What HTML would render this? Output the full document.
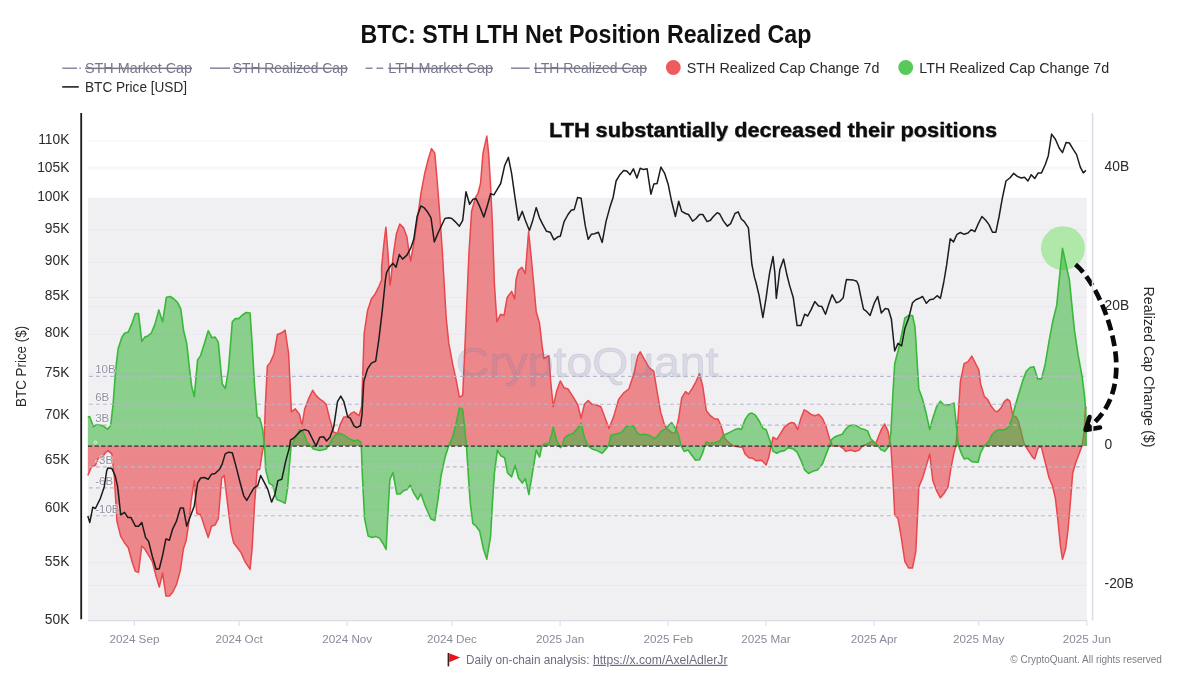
<!DOCTYPE html>
<html lang="en"><head><meta charset="utf-8"><title>BTC: STH LTH Net Position Realized Cap</title>
<style>
html,body{margin:0;padding:0;background:#fff;}
body{width:1183px;height:687px;overflow:hidden;font-family:"Liberation Sans", "DejaVu Sans", sans-serif;}
svg{display:block;}
text{font-family:"Liberation Sans", "DejaVu Sans", sans-serif;}
.yl{font-size:13.8px;fill:#2a2a2e;text-anchor:end;}
.yr{font-size:13.8px;fill:#2a2a2e;text-anchor:start;}
.xl{font-size:11.7px;fill:#8a8a9c;text-anchor:middle;}
.il{font-size:11.5px;fill:#8f8fa2;stroke:rgba(255,255,255,0.55);stroke-width:1.6px;paint-order:stroke;}
.lg{font-size:15px;fill:#2a2a2e;}
.lgx{font-size:15px;fill:#77778c;text-decoration:line-through;}
</style></head><body>
<svg width="1183" height="687" viewBox="0 0 1183 687">
<rect width="1183" height="687" fill="#ffffff"/>

<text x="585.9" y="42.6" text-anchor="middle" font-size="25px" font-weight="bold" fill="#111" textLength="451" lengthAdjust="spacingAndGlyphs">BTC: STH LTH Net Position Realized Cap</text>
<path d="M62.2,68.2 H77 M79.4,68.2 H80.8" stroke="#8a8aa0" stroke-width="1.6" fill="none"/>
<text class="lgx" x="85" y="73.0" textLength="107" lengthAdjust="spacingAndGlyphs">STH Market Cap</text>
<path d="M210,68.2 H230" stroke="#8a8aa0" stroke-width="1.6"/>
<text class="lgx" x="232.7" y="73.0" textLength="115" lengthAdjust="spacingAndGlyphs">STH Realized Cap</text>
<path d="M365.6,68.2 H372.5 M376.5,68.2 H383.2" stroke="#8a8aa0" stroke-width="1.6"/>
<text class="lgx" x="388.3" y="73.0" textLength="104.7" lengthAdjust="spacingAndGlyphs">LTH Market Cap</text>
<path d="M511,68.2 H529.6" stroke="#8a8aa0" stroke-width="1.6"/>
<text class="lgx" x="534" y="73.0" textLength="113" lengthAdjust="spacingAndGlyphs">LTH Realized Cap</text>
<circle cx="673.3" cy="67.5" r="7.4" fill="#ef5a5f"/>
<text class="lg" x="686.8" y="73.0" textLength="192.6" lengthAdjust="spacingAndGlyphs">STH Realized Cap Change 7d</text>
<circle cx="905.7" cy="67.5" r="7.4" fill="#58c858"/>
<text class="lg" x="919.3" y="73.0" textLength="190" lengthAdjust="spacingAndGlyphs">LTH Realized Cap Change 7d</text>
<path d="M62.2,86.9 H78.8" stroke="#222" stroke-width="1.6"/>
<text class="lg" x="85" y="91.7" textLength="102" lengthAdjust="spacingAndGlyphs">BTC Price [USD]</text>
<rect x="88.0" y="197.8" width="998.8" height="422.8" fill="#f0f0f3"/>
<path d="M88.0,141.1 H1086.8" stroke="#f3f3f6" stroke-width="1"/>
<path d="M88.0,169.0 H1086.8" stroke="#f3f3f6" stroke-width="1"/>
<path d="M88.0,229.6 H1086.8" stroke="#e8e8ee" stroke-width="1"/>
<path d="M88.0,262.5 H1086.8" stroke="#e8e8ee" stroke-width="1"/>
<path d="M88.0,297.3 H1086.8" stroke="#e8e8ee" stroke-width="1"/>
<path d="M88.0,334.3 H1086.8" stroke="#e8e8ee" stroke-width="1"/>
<path d="M88.0,373.6 H1086.8" stroke="#e8e8ee" stroke-width="1"/>
<path d="M88.0,415.6 H1086.8" stroke="#e8e8ee" stroke-width="1"/>
<path d="M88.0,460.8 H1086.8" stroke="#e8e8ee" stroke-width="1"/>
<path d="M88.0,509.5 H1086.8" stroke="#e8e8ee" stroke-width="1"/>
<path d="M88.0,562.6 H1086.8" stroke="#e8e8ee" stroke-width="1"/>
<path d="M88.0,167.2 H1086.8" stroke="#f3f3f6" stroke-width="1"/>
<path d="M88.0,306.6 H1086.8" stroke="#e8e8ee" stroke-width="1"/>
<path d="M88.0,585.4 H1086.8" stroke="#e8e8ee" stroke-width="1"/>
<path d="M88.0,620.6 H1086.8" stroke="#dcdce8" stroke-width="1.4"/>
<circle cx="1063" cy="248.2" r="22" fill="rgba(150,228,140,0.72)"/>
<path d="M87.8,475.5 L91.6,466.6 L95.4,465.4 L98.4,457.8 L101.7,457.8 L105.5,452.7 L108.0,450.6 L111.8,453.9 L114.4,478.0 L116.9,521.1 L120.7,536.4 L124.5,542.7 L128.3,547.8 L132.1,561.7 L135.4,571.4 L138.5,572.4 L141.8,546.0 L144.8,549.0 L148.6,555.4 L152.4,561.7 L156.2,576.9 L159.3,587.1 L162.6,573.1 L165.9,596.0 L169.4,596.0 L172.7,592.2 L176.5,584.5 L180.3,570.6 L183.4,549.0 L186.2,540.2 L188.7,523.7 L191.2,500.9 L194.3,480.6 L196.8,513.5 L200.6,514.8 L204.4,526.2 L208.2,537.6 L211.5,526.2 L215.1,525.0 L218.3,518.6 L221.7,478.0 L224.2,475.5 L227.2,500.9 L231.0,531.3 L233.6,542.7 L237.4,547.8 L241.2,552.9 L245.0,561.7 L250.1,569.3 L252.1,549.0 L254.6,503.4 L257.1,470.4 L259.7,469.2 L262.7,450.1 L264.0,445.6 L265.3,406.8 L267.3,366.2 L270.3,362.4 L274.1,353.5 L277.4,334.5 L281.8,332.8 L285.1,330.2 L288.6,353.5 L291.4,411.9 L295.2,408.8 L299.5,414.4 L302.0,425.8 L304.6,409.3 L308.4,399.2 L312.7,390.3 L316.0,395.4 L319.8,399.2 L323.6,401.7 L326.1,404.3 L329.9,419.5 L333.7,432.2 L337.5,433.4 L340.1,424.6 L343.9,416.9 L347.7,416.9 L351.5,413.1 L354.0,411.9 L359.1,415.7 L361.6,406.8 L364.2,333.2 L367.6,310.4 L371.4,299.0 L375.2,293.9 L379.0,286.3 L381.6,280.0 L381.6,267.2 L384.1,241.9 L385.9,227.2 L387.9,252.0 L389.9,285.0 L390.9,279.9 L393.0,257.1 L396.3,234.3 L399.8,224.1 L403.6,227.9 L406.9,236.8 L409.4,254.6 L410.7,260.9 L413.2,246.9 L417.1,221.6 L420.9,193.7 L424.7,173.4 L428.5,158.2 L431.5,148.6 L434.8,153.1 L437.4,183.5 L439.9,216.5 L442.4,252.0 L444.2,284.0 L446.2,318.0 L448.8,343.4 L452.6,363.7 L456.4,381.4 L459.4,397.2 L462.7,395.4 L464.5,356.1 L466.5,310.4 L467.8,280.0 L469.0,252.0 L471.6,211.4 L475.4,197.5 L477.9,193.7 L480.5,183.5 L483.0,153.1 L486.8,136.1 L488.6,153.1 L490.6,186.1 L492.4,224.1 L494.4,284.0 L496.9,321.8 L500.7,314.2 L504.0,315.5 L507.1,297.8 L511.6,291.4 L514.7,299.0 L516.0,280.0 L518.5,270.3 L521.8,267.2 L525.3,273.6 L528.6,231.7 L531.2,257.1 L533.7,284.0 L536.2,311.7 L539.5,323.1 L542.1,345.9 L543.9,358.6 L548.9,355.6 L550.7,381.4 L553.2,406.8 L556.5,391.6 L560.3,380.9 L564.1,387.8 L568.0,389.0 L573.0,396.6 L577.6,404.3 L581.1,418.2 L584.4,404.3 L588.2,400.5 L592.0,404.3 L595.8,404.8 L600.9,406.8 L604.7,416.9 L609.0,428.4 L613.6,416.9 L618.7,399.2 L623.7,392.9 L628.8,389.0 L633.9,373.8 L637.7,356.1 L640.2,351.8 L644.0,358.6 L649.1,367.5 L653.8,371.3 L657.1,391.6 L660.6,411.9 L664.7,425.8 L668.3,429.6 L672.3,433.4 L675.4,432.2 L678.4,419.5 L681.7,397.9 L685.5,391.6 L688.5,394.1 L692.6,387.8 L696.1,381.4 L699.5,373.8 L702.8,386.5 L706.3,410.6 L710.4,415.7 L714.7,419.0 L718.0,419.0 L721.0,425.8 L724.8,438.5 L728.6,442.3 L733.7,446.1 L742.6,447.6 L745.1,453.9 L748.9,457.8 L752.7,458.3 L756.5,460.8 L761.6,460.3 L766.1,464.9 L768.7,457.8 L771.2,445.6 L773.0,437.2 L776.8,439.3 L780.6,433.4 L784.4,427.1 L788.2,424.0 L791.5,422.5 L794.5,423.3 L797.6,429.6 L800.9,418.2 L804.2,409.8 L807.2,411.4 L811.0,414.4 L814.8,415.7 L818.6,414.4 L822.4,418.2 L826.2,427.1 L829.5,438.5 L832.6,446.1 L838.9,445.6 L842.7,448.1 L845.8,451.4 L850.3,450.1 L855.4,451.4 L859.2,450.1 L863.0,445.6 L868.1,443.6 L871.9,441.0 L875.7,443.6 L878.2,437.2 L881.3,429.6 L884.6,424.0 L887.9,430.9 L889.6,439.8 L890.9,446.1 L892.9,478.0 L894.7,514.8 L898.0,518.6 L901.1,536.4 L904.9,561.7 L908.7,568.1 L912.5,568.1 L915.8,551.6 L917.5,516.1 L918.8,486.9 L922.6,478.0 L926.4,465.4 L929.7,453.9 L932.8,480.6 L936.6,490.7 L940.4,497.8 L944.2,493.2 L948.0,486.9 L951.0,467.9 L954.0,452.7 L956.0,445.6 L957.8,422.0 L960.4,381.4 L964.1,363.7 L968.0,361.7 L971.8,356.1 L975.6,363.7 L978.9,370.0 L980.6,384.0 L984.4,396.6 L987.5,399.2 L990.8,405.5 L994.6,410.6 L997.1,411.9 L1000.9,408.1 L1004.2,401.7 L1007.3,399.2 L1009.8,401.2 L1011.8,410.6 L1012.8,415.7 L1016.1,416.9 L1018.7,422.0 L1021.2,432.2 L1023.7,442.3 L1025.5,446.1 L1028.8,451.4 L1032.6,457.2 L1034.7,459.0 L1037.7,448.9 L1039.7,446.3 L1041.5,447.6 L1045.3,462.8 L1049.1,478.0 L1052.4,485.6 L1055.4,498.3 L1058.0,521.1 L1060.5,546.5 L1062.5,559.2 L1065.6,549.0 L1068.1,528.8 L1070.7,498.3 L1072.7,473.0 L1075.7,462.8 L1079.5,452.7 L1082.1,445.6 L1084.1,432.2 L1085.1,411.9 L1086.1,406.8 L1086.1,446.0 L87.8,446.0 Z" fill="rgba(234,72,76,0.62)" stroke="none"/>
<path d="M87.8,475.5 L91.6,466.6 L95.4,465.4 L98.4,457.8 L101.7,457.8 L105.5,452.7 L108.0,450.6 L111.8,453.9 L114.4,478.0 L116.9,521.1 L120.7,536.4 L124.5,542.7 L128.3,547.8 L132.1,561.7 L135.4,571.4 L138.5,572.4 L141.8,546.0 L144.8,549.0 L148.6,555.4 L152.4,561.7 L156.2,576.9 L159.3,587.1 L162.6,573.1 L165.9,596.0 L169.4,596.0 L172.7,592.2 L176.5,584.5 L180.3,570.6 L183.4,549.0 L186.2,540.2 L188.7,523.7 L191.2,500.9 L194.3,480.6 L196.8,513.5 L200.6,514.8 L204.4,526.2 L208.2,537.6 L211.5,526.2 L215.1,525.0 L218.3,518.6 L221.7,478.0 L224.2,475.5 L227.2,500.9 L231.0,531.3 L233.6,542.7 L237.4,547.8 L241.2,552.9 L245.0,561.7 L250.1,569.3 L252.1,549.0 L254.6,503.4 L257.1,470.4 L259.7,469.2 L262.7,450.1 L264.0,445.6 L265.3,406.8 L267.3,366.2 L270.3,362.4 L274.1,353.5 L277.4,334.5 L281.8,332.8 L285.1,330.2 L288.6,353.5 L291.4,411.9 L295.2,408.8 L299.5,414.4 L302.0,425.8 L304.6,409.3 L308.4,399.2 L312.7,390.3 L316.0,395.4 L319.8,399.2 L323.6,401.7 L326.1,404.3 L329.9,419.5 L333.7,432.2 L337.5,433.4 L340.1,424.6 L343.9,416.9 L347.7,416.9 L351.5,413.1 L354.0,411.9 L359.1,415.7 L361.6,406.8 L364.2,333.2 L367.6,310.4 L371.4,299.0 L375.2,293.9 L379.0,286.3 L381.6,280.0 L381.6,267.2 L384.1,241.9 L385.9,227.2 L387.9,252.0 L389.9,285.0 L390.9,279.9 L393.0,257.1 L396.3,234.3 L399.8,224.1 L403.6,227.9 L406.9,236.8 L409.4,254.6 L410.7,260.9 L413.2,246.9 L417.1,221.6 L420.9,193.7 L424.7,173.4 L428.5,158.2 L431.5,148.6 L434.8,153.1 L437.4,183.5 L439.9,216.5 L442.4,252.0 L444.2,284.0 L446.2,318.0 L448.8,343.4 L452.6,363.7 L456.4,381.4 L459.4,397.2 L462.7,395.4 L464.5,356.1 L466.5,310.4 L467.8,280.0 L469.0,252.0 L471.6,211.4 L475.4,197.5 L477.9,193.7 L480.5,183.5 L483.0,153.1 L486.8,136.1 L488.6,153.1 L490.6,186.1 L492.4,224.1 L494.4,284.0 L496.9,321.8 L500.7,314.2 L504.0,315.5 L507.1,297.8 L511.6,291.4 L514.7,299.0 L516.0,280.0 L518.5,270.3 L521.8,267.2 L525.3,273.6 L528.6,231.7 L531.2,257.1 L533.7,284.0 L536.2,311.7 L539.5,323.1 L542.1,345.9 L543.9,358.6 L548.9,355.6 L550.7,381.4 L553.2,406.8 L556.5,391.6 L560.3,380.9 L564.1,387.8 L568.0,389.0 L573.0,396.6 L577.6,404.3 L581.1,418.2 L584.4,404.3 L588.2,400.5 L592.0,404.3 L595.8,404.8 L600.9,406.8 L604.7,416.9 L609.0,428.4 L613.6,416.9 L618.7,399.2 L623.7,392.9 L628.8,389.0 L633.9,373.8 L637.7,356.1 L640.2,351.8 L644.0,358.6 L649.1,367.5 L653.8,371.3 L657.1,391.6 L660.6,411.9 L664.7,425.8 L668.3,429.6 L672.3,433.4 L675.4,432.2 L678.4,419.5 L681.7,397.9 L685.5,391.6 L688.5,394.1 L692.6,387.8 L696.1,381.4 L699.5,373.8 L702.8,386.5 L706.3,410.6 L710.4,415.7 L714.7,419.0 L718.0,419.0 L721.0,425.8 L724.8,438.5 L728.6,442.3 L733.7,446.1 L742.6,447.6 L745.1,453.9 L748.9,457.8 L752.7,458.3 L756.5,460.8 L761.6,460.3 L766.1,464.9 L768.7,457.8 L771.2,445.6 L773.0,437.2 L776.8,439.3 L780.6,433.4 L784.4,427.1 L788.2,424.0 L791.5,422.5 L794.5,423.3 L797.6,429.6 L800.9,418.2 L804.2,409.8 L807.2,411.4 L811.0,414.4 L814.8,415.7 L818.6,414.4 L822.4,418.2 L826.2,427.1 L829.5,438.5 L832.6,446.1 L838.9,445.6 L842.7,448.1 L845.8,451.4 L850.3,450.1 L855.4,451.4 L859.2,450.1 L863.0,445.6 L868.1,443.6 L871.9,441.0 L875.7,443.6 L878.2,437.2 L881.3,429.6 L884.6,424.0 L887.9,430.9 L889.6,439.8 L890.9,446.1 L892.9,478.0 L894.7,514.8 L898.0,518.6 L901.1,536.4 L904.9,561.7 L908.7,568.1 L912.5,568.1 L915.8,551.6 L917.5,516.1 L918.8,486.9 L922.6,478.0 L926.4,465.4 L929.7,453.9 L932.8,480.6 L936.6,490.7 L940.4,497.8 L944.2,493.2 L948.0,486.9 L951.0,467.9 L954.0,452.7 L956.0,445.6 L957.8,422.0 L960.4,381.4 L964.1,363.7 L968.0,361.7 L971.8,356.1 L975.6,363.7 L978.9,370.0 L980.6,384.0 L984.4,396.6 L987.5,399.2 L990.8,405.5 L994.6,410.6 L997.1,411.9 L1000.9,408.1 L1004.2,401.7 L1007.3,399.2 L1009.8,401.2 L1011.8,410.6 L1012.8,415.7 L1016.1,416.9 L1018.7,422.0 L1021.2,432.2 L1023.7,442.3 L1025.5,446.1 L1028.8,451.4 L1032.6,457.2 L1034.7,459.0 L1037.7,448.9 L1039.7,446.3 L1041.5,447.6 L1045.3,462.8 L1049.1,478.0 L1052.4,485.6 L1055.4,498.3 L1058.0,521.1 L1060.5,546.5 L1062.5,559.2 L1065.6,549.0 L1068.1,528.8 L1070.7,498.3 L1072.7,473.0 L1075.7,462.8 L1079.5,452.7 L1082.1,445.6 L1084.1,432.2 L1085.1,411.9 L1086.1,406.8" fill="none" stroke="#e8474c" stroke-width="1.5" stroke-linejoin="round"/>
<path d="M87.8,416.9 L89.8,416.9 L93.3,426.6 L96.6,424.6 L103.0,425.8 L107.5,429.1 L110.6,425.8 L113.1,404.3 L115.7,368.8 L118.2,348.5 L122.0,337.1 L124.5,333.2 L128.3,332.0 L132.1,323.1 L135.4,313.5 L138.5,313.5 L141.8,341.4 L144.8,337.1 L147.3,336.3 L151.2,333.2 L154.9,324.4 L158.8,309.9 L162.6,321.8 L166.4,297.2 L170.2,296.5 L174.0,299.0 L177.8,302.8 L180.8,309.2 L183.6,330.7 L186.7,343.4 L189.2,366.2 L191.7,386.5 L194.3,396.6 L197.6,359.9 L200.6,355.6 L204.4,343.4 L208.2,330.7 L212.0,337.8 L215.1,337.1 L218.3,342.1 L222.2,384.0 L225.4,388.5 L228.5,368.8 L232.3,321.8 L235.3,318.6 L238.6,318.6 L242.4,315.0 L246.2,312.5 L250.1,313.0 L252.1,343.4 L254.6,386.5 L257.1,416.9 L259.7,418.2 L262.7,429.6 L264.5,446.1 L265.8,470.4 L269.1,483.1 L272.9,485.6 L276.7,499.6 L280.5,500.9 L285.1,503.4 L287.6,488.2 L289.4,465.4 L291.1,445.6 L293.2,442.3 L299.5,429.6 L303.3,432.2 L307.1,442.3 L310.9,446.1 L313.4,448.9 L319.8,450.6 L326.1,448.9 L328.7,445.6 L332.5,438.5 L336.3,434.2 L340.1,433.4 L343.9,435.2 L348.9,438.5 L354.0,441.0 L357.8,439.8 L361.1,442.3 L361.3,445.6 L362.5,478.0 L364.6,518.6 L368.1,535.9 L372.2,537.6 L375.7,536.4 L379.8,538.4 L383.3,544.0 L386.1,549.5 L387.9,513.5 L389.9,479.3 L393.0,472.5 L396.8,494.0 L400.1,494.0 L403.6,490.7 L406.9,489.4 L410.2,485.1 L413.8,493.2 L417.8,499.6 L420.9,493.8 L424.7,504.7 L428.0,512.3 L431.0,519.1 L434.8,520.6 L438.1,498.3 L441.1,475.5 L444.9,457.8 L448.8,445.6 L452.6,437.2 L456.4,422.0 L459.4,408.1 L462.7,409.3 L464.5,427.1 L466.5,446.1 L468.5,478.0 L470.3,503.4 L472.9,523.7 L476.1,526.2 L479.7,531.3 L483.5,549.0 L486.8,559.2 L490.6,536.4 L492.4,503.4 L494.4,473.0 L497.4,450.1 L500.7,455.7 L504.6,457.8 L507.6,473.0 L511.6,476.8 L515.2,465.4 L518.5,478.0 L522.3,483.1 L525.3,478.6 L528.9,494.5 L532.4,473.0 L536.2,450.1 L539.5,457.2 L542.1,445.6 L545.1,443.6 L548.9,443.6 L551.5,434.7 L553.2,427.1 L556.5,439.8 L559.6,446.1 L560.3,447.6 L562.4,445.6 L564.1,438.5 L568.0,435.2 L573.0,433.4 L577.6,428.4 L581.1,423.3 L584.4,437.2 L588.2,446.1 L592.0,448.9 L597.1,450.6 L602.2,453.2 L606.0,448.9 L608.5,445.6 L611.1,435.2 L614.9,434.2 L618.7,433.4 L622.5,431.6 L626.3,426.6 L630.1,425.3 L633.9,426.6 L636.9,432.7 L640.2,434.7 L644.0,434.2 L649.1,435.2 L654.2,438.5 L657.6,436.0 L661.4,430.9 L664.7,429.6 L668.3,425.8 L671.6,422.5 L675.4,428.4 L678.4,434.7 L681.2,446.1 L684.2,451.4 L688.0,450.1 L691.8,455.2 L695.6,460.3 L699.5,459.8 L702.8,452.7 L704.8,445.6 L706.3,441.8 L709.6,443.6 L714.7,442.8 L719.7,441.0 L723.5,435.2 L727.4,433.4 L731.1,431.6 L735.0,429.6 L738.8,428.4 L741.3,429.6 L745.1,419.5 L748.9,413.9 L751.9,413.1 L755.2,414.9 L759.0,420.7 L762.9,428.4 L766.1,429.6 L769.2,438.5 L771.5,446.1 L773.0,451.4 L776.8,453.2 L780.6,451.4 L784.4,450.6 L788.2,447.6 L793.3,448.9 L797.1,452.2 L800.9,460.3 L804.7,469.9 L808.5,473.5 L813.6,470.9 L817.4,469.9 L822.4,464.1 L826.2,453.9 L829.5,445.6 L831.3,439.8 L835.1,436.7 L838.9,435.2 L842.2,434.2 L845.3,429.6 L849.1,425.8 L852.9,425.1 L856.7,425.8 L860.5,428.4 L864.3,429.6 L867.6,430.9 L870.6,438.5 L874.4,442.3 L878.2,446.1 L880.8,449.6 L884.6,451.4 L887.9,447.6 L889.1,445.6 L890.9,432.2 L892.9,394.1 L894.7,363.7 L898.0,351.0 L901.1,337.1 L904.9,318.0 L908.7,315.5 L912.5,315.5 L915.0,326.9 L916.8,356.1 L918.8,389.0 L922.6,399.2 L926.4,414.4 L929.7,429.6 L932.8,418.2 L936.6,406.8 L940.4,401.2 L943.7,404.8 L950.2,404.8 L954.0,403.0 L956.0,422.0 L958.6,446.1 L961.6,453.9 L964.1,459.0 L968.0,458.3 L971.8,461.6 L978.1,462.3 L980.6,452.7 L984.4,445.6 L988.2,442.3 L992.0,434.7 L995.9,430.9 L999.6,429.6 L1003.5,430.1 L1007.3,428.4 L1009.8,424.6 L1012.8,415.7 L1014.9,406.8 L1018.7,394.1 L1022.5,381.4 L1026.3,371.3 L1030.1,367.5 L1033.9,366.7 L1037.7,378.9 L1041.5,378.9 L1045.3,363.7 L1049.1,340.9 L1052.9,320.6 L1056.7,305.4 L1059.2,280.0 L1062.5,248.3 L1066.1,264.8 L1069.4,280.0 L1071.9,305.4 L1074.5,330.7 L1078.3,356.1 L1082.1,376.4 L1084.6,396.6 L1085.9,414.4 L1086.1,446.1 L1086.1,446.0 L87.8,446.0 Z" fill="rgba(64,182,66,0.58)" stroke="none"/>
<path d="M87.8,416.9 L89.8,416.9 L93.3,426.6 L96.6,424.6 L103.0,425.8 L107.5,429.1 L110.6,425.8 L113.1,404.3 L115.7,368.8 L118.2,348.5 L122.0,337.1 L124.5,333.2 L128.3,332.0 L132.1,323.1 L135.4,313.5 L138.5,313.5 L141.8,341.4 L144.8,337.1 L147.3,336.3 L151.2,333.2 L154.9,324.4 L158.8,309.9 L162.6,321.8 L166.4,297.2 L170.2,296.5 L174.0,299.0 L177.8,302.8 L180.8,309.2 L183.6,330.7 L186.7,343.4 L189.2,366.2 L191.7,386.5 L194.3,396.6 L197.6,359.9 L200.6,355.6 L204.4,343.4 L208.2,330.7 L212.0,337.8 L215.1,337.1 L218.3,342.1 L222.2,384.0 L225.4,388.5 L228.5,368.8 L232.3,321.8 L235.3,318.6 L238.6,318.6 L242.4,315.0 L246.2,312.5 L250.1,313.0 L252.1,343.4 L254.6,386.5 L257.1,416.9 L259.7,418.2 L262.7,429.6 L264.5,446.1 L265.8,470.4 L269.1,483.1 L272.9,485.6 L276.7,499.6 L280.5,500.9 L285.1,503.4 L287.6,488.2 L289.4,465.4 L291.1,445.6 L293.2,442.3 L299.5,429.6 L303.3,432.2 L307.1,442.3 L310.9,446.1 L313.4,448.9 L319.8,450.6 L326.1,448.9 L328.7,445.6 L332.5,438.5 L336.3,434.2 L340.1,433.4 L343.9,435.2 L348.9,438.5 L354.0,441.0 L357.8,439.8 L361.1,442.3 L361.3,445.6 L362.5,478.0 L364.6,518.6 L368.1,535.9 L372.2,537.6 L375.7,536.4 L379.8,538.4 L383.3,544.0 L386.1,549.5 L387.9,513.5 L389.9,479.3 L393.0,472.5 L396.8,494.0 L400.1,494.0 L403.6,490.7 L406.9,489.4 L410.2,485.1 L413.8,493.2 L417.8,499.6 L420.9,493.8 L424.7,504.7 L428.0,512.3 L431.0,519.1 L434.8,520.6 L438.1,498.3 L441.1,475.5 L444.9,457.8 L448.8,445.6 L452.6,437.2 L456.4,422.0 L459.4,408.1 L462.7,409.3 L464.5,427.1 L466.5,446.1 L468.5,478.0 L470.3,503.4 L472.9,523.7 L476.1,526.2 L479.7,531.3 L483.5,549.0 L486.8,559.2 L490.6,536.4 L492.4,503.4 L494.4,473.0 L497.4,450.1 L500.7,455.7 L504.6,457.8 L507.6,473.0 L511.6,476.8 L515.2,465.4 L518.5,478.0 L522.3,483.1 L525.3,478.6 L528.9,494.5 L532.4,473.0 L536.2,450.1 L539.5,457.2 L542.1,445.6 L545.1,443.6 L548.9,443.6 L551.5,434.7 L553.2,427.1 L556.5,439.8 L559.6,446.1 L560.3,447.6 L562.4,445.6 L564.1,438.5 L568.0,435.2 L573.0,433.4 L577.6,428.4 L581.1,423.3 L584.4,437.2 L588.2,446.1 L592.0,448.9 L597.1,450.6 L602.2,453.2 L606.0,448.9 L608.5,445.6 L611.1,435.2 L614.9,434.2 L618.7,433.4 L622.5,431.6 L626.3,426.6 L630.1,425.3 L633.9,426.6 L636.9,432.7 L640.2,434.7 L644.0,434.2 L649.1,435.2 L654.2,438.5 L657.6,436.0 L661.4,430.9 L664.7,429.6 L668.3,425.8 L671.6,422.5 L675.4,428.4 L678.4,434.7 L681.2,446.1 L684.2,451.4 L688.0,450.1 L691.8,455.2 L695.6,460.3 L699.5,459.8 L702.8,452.7 L704.8,445.6 L706.3,441.8 L709.6,443.6 L714.7,442.8 L719.7,441.0 L723.5,435.2 L727.4,433.4 L731.1,431.6 L735.0,429.6 L738.8,428.4 L741.3,429.6 L745.1,419.5 L748.9,413.9 L751.9,413.1 L755.2,414.9 L759.0,420.7 L762.9,428.4 L766.1,429.6 L769.2,438.5 L771.5,446.1 L773.0,451.4 L776.8,453.2 L780.6,451.4 L784.4,450.6 L788.2,447.6 L793.3,448.9 L797.1,452.2 L800.9,460.3 L804.7,469.9 L808.5,473.5 L813.6,470.9 L817.4,469.9 L822.4,464.1 L826.2,453.9 L829.5,445.6 L831.3,439.8 L835.1,436.7 L838.9,435.2 L842.2,434.2 L845.3,429.6 L849.1,425.8 L852.9,425.1 L856.7,425.8 L860.5,428.4 L864.3,429.6 L867.6,430.9 L870.6,438.5 L874.4,442.3 L878.2,446.1 L880.8,449.6 L884.6,451.4 L887.9,447.6 L889.1,445.6 L890.9,432.2 L892.9,394.1 L894.7,363.7 L898.0,351.0 L901.1,337.1 L904.9,318.0 L908.7,315.5 L912.5,315.5 L915.0,326.9 L916.8,356.1 L918.8,389.0 L922.6,399.2 L926.4,414.4 L929.7,429.6 L932.8,418.2 L936.6,406.8 L940.4,401.2 L943.7,404.8 L950.2,404.8 L954.0,403.0 L956.0,422.0 L958.6,446.1 L961.6,453.9 L964.1,459.0 L968.0,458.3 L971.8,461.6 L978.1,462.3 L980.6,452.7 L984.4,445.6 L988.2,442.3 L992.0,434.7 L995.9,430.9 L999.6,429.6 L1003.5,430.1 L1007.3,428.4 L1009.8,424.6 L1012.8,415.7 L1014.9,406.8 L1018.7,394.1 L1022.5,381.4 L1026.3,371.3 L1030.1,367.5 L1033.9,366.7 L1037.7,378.9 L1041.5,378.9 L1045.3,363.7 L1049.1,340.9 L1052.9,320.6 L1056.7,305.4 L1059.2,280.0 L1062.5,248.3 L1066.1,264.8 L1069.4,280.0 L1071.9,305.4 L1074.5,330.7 L1078.3,356.1 L1082.1,376.4 L1084.6,396.6 L1085.9,414.4 L1086.1,446.1" fill="none" stroke="#3ab83a" stroke-width="1.6" stroke-linejoin="round"/>
<text x="455.7" y="376.8" font-size="43px" fill="rgba(120,120,165,0.18)" stroke="rgba(120,120,165,0.18)" stroke-width="0.9" textLength="262.7" lengthAdjust="spacingAndGlyphs">CryptoQuant</text>
<path d="M89.0,376.3 H1084" stroke="#b6b6cc" stroke-width="1.15" stroke-dasharray="3.7,3.3"/>
<path d="M89.0,404.2 H1084" stroke="#b6b6cc" stroke-width="1.15" stroke-dasharray="3.7,3.3"/>
<path d="M89.0,425.1 H1084" stroke="#b6b6cc" stroke-width="1.15" stroke-dasharray="3.7,3.3"/>
<path d="M89.0,466.9 H1084" stroke="#b6b6cc" stroke-width="1.15" stroke-dasharray="3.7,3.3"/>
<path d="M89.0,487.8 H1084" stroke="#b6b6cc" stroke-width="1.15" stroke-dasharray="3.7,3.3"/>
<path d="M89.0,515.7 H1084" stroke="#b6b6cc" stroke-width="1.15" stroke-dasharray="3.7,3.3"/>
<text class="il" x="95.2" y="373.3">10B</text>
<text class="il" x="95.2" y="401.2">6B</text>
<text class="il" x="95.2" y="422.1">3B</text>
<text class="il" x="95.2" y="463.9">-3B</text>
<text class="il" x="95.2" y="484.8">-6B</text>
<text class="il" x="95.2" y="512.7">-10B</text>
<path d="M88.0,446.0 H1084" stroke="#2e2e2e" stroke-width="1.25" stroke-dasharray="4.2,2.4"/>
<circle cx="95.4" cy="442.4" r="1.4" fill="none" stroke="#fff" stroke-width="0.9" opacity="0.85"/>
<path d="M87.8,516.1 L89.8,522.4 L92.8,507.2 L95.4,508.5 L100.4,498.3 L104.2,486.9 L106.8,470.4 L108.0,467.9 L111.8,468.4 L115.1,475.5 L117.7,486.9 L120.7,514.8 L124.5,512.3 L127.8,517.4 L130.9,517.4 L135.4,526.2 L138.5,526.2 L141.8,522.4 L145.6,537.6 L148.6,541.4 L152.4,556.6 L156.2,569.3 L159.3,568.8 L162.6,555.4 L165.9,538.9 L169.4,540.2 L172.7,528.8 L176.5,521.1 L180.3,508.0 L183.4,508.0 L186.7,526.2 L190.5,516.1 L194.3,505.9 L197.6,483.1 L200.6,478.0 L204.4,477.5 L208.2,479.3 L211.5,474.2 L215.1,473.5 L219.6,469.2 L222.2,464.1 L225.2,453.9 L228.5,452.2 L232.3,452.7 L236.1,466.6 L239.9,481.8 L243.7,495.8 L246.8,500.4 L250.1,494.5 L253.8,488.2 L257.7,485.6 L260.7,475.5 L264.0,481.8 L267.8,489.4 L271.6,502.1 L274.9,494.5 L277.9,480.6 L281.8,479.3 L285.6,461.6 L289.4,447.6 L290.6,439.8 L293.2,438.5 L297.0,434.7 L300.8,430.9 L304.6,429.6 L308.4,430.9 L312.2,438.5 L316.0,446.1 L319.8,437.2 L323.6,436.7 L326.6,441.0 L329.9,437.2 L333.7,427.1 L337.5,401.7 L340.8,396.1 L343.9,401.7 L347.7,416.9 L350.2,418.2 L354.0,425.8 L356.6,427.6 L360.4,425.8 L362.0,414.4 L363.8,381.4 L367.6,368.8 L371.4,363.2 L375.7,361.1 L379.0,338.3 L382.3,310.4 L385.4,280.0 L386.6,272.3 L390.4,266.0 L393.0,263.4 L396.0,267.2 L399.3,254.6 L402.6,259.1 L406.9,255.1 L410.7,248.2 L413.8,239.3 L417.1,216.5 L420.9,205.9 L423.9,207.6 L427.2,211.4 L431.0,217.8 L434.3,241.9 L438.6,231.7 L444.9,218.5 L448.8,217.8 L451.8,218.5 L455.1,221.6 L459.4,226.2 L462.7,220.3 L466.0,191.7 L469.6,204.3 L472.9,199.3 L476.1,198.8 L479.7,206.4 L483.8,217.0 L486.8,207.6 L490.6,193.7 L493.9,194.9 L496.9,189.9 L500.7,183.5 L504.6,165.8 L508.4,157.4 L511.6,173.4 L515.2,198.8 L518.5,220.3 L522.3,211.4 L525.3,220.3 L529.4,230.5 L532.4,221.6 L536.2,207.6 L539.5,217.8 L542.6,224.1 L546.4,231.2 L550.2,232.2 L554.0,239.8 L557.8,236.8 L560.3,236.3 L564.1,221.6 L568.0,214.5 L571.2,210.2 L574.3,209.4 L577.6,197.5 L581.1,198.2 L585.2,225.4 L588.2,239.3 L591.3,234.3 L594.6,233.8 L598.4,232.2 L602.2,242.4 L606.0,221.6 L609.8,207.6 L613.1,197.5 L616.1,181.0 L619.9,174.7 L623.7,170.4 L626.8,170.9 L630.1,174.7 L633.4,168.8 L636.9,178.0 L640.2,168.3 L643.5,169.6 L647.1,168.8 L650.9,194.2 L653.8,184.1 L657.1,183.5 L660.9,167.1 L664.7,173.4 L668.3,184.8 L671.6,201.3 L675.4,216.5 L678.7,201.3 L681.7,211.4 L685.5,213.5 L688.5,214.5 L692.6,221.1 L695.6,219.0 L699.5,214.5 L702.8,214.5 L707.1,221.6 L710.4,220.3 L713.4,216.5 L717.2,212.7 L719.7,214.0 L723.5,221.1 L727.4,226.2 L730.6,223.6 L735.0,213.5 L738.2,211.9 L741.3,219.0 L744.3,221.6 L748.4,227.9 L750.2,246.9 L751.9,264.7 L754.5,277.4 L756.0,282.5 L759.0,295.2 L762.9,317.5 L766.1,297.8 L768.2,282.5 L769.7,272.3 L773.0,256.6 L774.8,272.3 L776.3,298.3 L778.3,282.5 L779.8,269.8 L783.6,259.1 L786.9,274.8 L789.5,285.1 L793.3,297.8 L797.1,325.6 L800.9,325.6 L804.7,314.2 L807.7,316.0 L811.0,309.9 L814.8,301.6 L818.6,305.9 L821.9,306.6 L825.5,314.2 L828.8,304.1 L832.1,294.7 L836.4,302.8 L839.7,301.6 L843.2,297.8 L845.3,285.1 L846.5,279.4 L852.9,279.9 L856.7,281.2 L858.5,285.1 L860.5,295.2 L863.5,309.2 L866.8,311.7 L870.1,315.5 L874.4,302.8 L877.7,296.5 L881.3,313.0 L885.3,308.4 L888.4,309.2 L891.4,319.3 L894.7,351.0 L898.0,343.4 L901.6,345.9 L904.9,328.2 L908.7,318.0 L912.5,302.8 L915.8,299.8 L919.3,298.3 L922.6,296.5 L926.4,303.3 L929.7,299.8 L933.5,299.0 L937.1,295.7 L940.4,298.3 L943.7,282.5 L946.7,264.7 L950.2,238.8 L953.5,241.9 L957.0,234.3 L960.4,232.5 L964.1,234.3 L968.0,233.0 L971.2,229.7 L974.8,231.7 L978.1,224.1 L981.9,216.5 L985.7,220.3 L989.0,224.6 L992.5,232.2 L995.9,232.2 L999.1,216.5 L1002.2,198.8 L1006.0,181.0 L1009.8,178.0 L1013.6,173.4 L1017.4,176.4 L1021.2,178.0 L1024.5,177.2 L1028.0,181.0 L1031.3,174.7 L1034.7,178.5 L1038.2,172.9 L1041.5,172.9 L1045.3,164.5 L1048.3,155.7 L1051.6,134.1 L1055.4,139.2 L1059.2,148.0 L1062.5,152.6 L1066.1,142.5 L1069.4,143.0 L1073.2,149.3 L1076.5,154.4 L1080.3,167.1 L1083.3,172.9 L1085.9,170.4" fill="none" stroke="#1c1c1c" stroke-width="1.5" stroke-linejoin="round"/>
<path d="M1075.5,264.5 C1092,278 1112.5,318 1116,358 C1118.5,392 1106,414 1088,428" fill="none" stroke="#0a0a0a" stroke-width="4.7" stroke-dasharray="11,5.2"/>
<path d="M1089.6,417 L1085.6,430 L1100,427.6" fill="none" stroke="#0a0a0a" stroke-width="4.6" stroke-linecap="round" stroke-linejoin="round"/>
<text x="549.8" y="137.6" font-size="21px" font-weight="bold" fill="#bbb" textLength="448" lengthAdjust="spacingAndGlyphs" opacity="0.9">LTH substantially decreased their positions</text>
<text x="549" y="136.6" font-size="21px" font-weight="bold" fill="#0c0c0c" stroke="#0c0c0c" stroke-width="0.35" textLength="448" lengthAdjust="spacingAndGlyphs">LTH substantially decreased their positions</text>
<path d="M81.2,113.0 V619.2" stroke="#1a1a1a" stroke-width="1.8"/>
<path d="M1092.6,113.0 V620.6" stroke="#dcdce8" stroke-width="1.6"/>
<text class="yl" x="69.4" y="144.0">110K</text>
<text class="yl" x="69.4" y="171.9">105K</text>
<text class="yl" x="69.4" y="201.2">100K</text>
<text class="yl" x="69.4" y="232.5">95K</text>
<text class="yl" x="69.4" y="265.4">90K</text>
<text class="yl" x="69.4" y="300.2">85K</text>
<text class="yl" x="69.4" y="337.2">80K</text>
<text class="yl" x="69.4" y="376.5">75K</text>
<text class="yl" x="69.4" y="418.5">70K</text>
<text class="yl" x="69.4" y="463.7">65K</text>
<text class="yl" x="69.4" y="512.4">60K</text>
<text class="yl" x="69.4" y="565.5">55K</text>
<text class="yl" x="69.4" y="623.5">50K</text>
<text class="yr" x="1104.6" y="171.2">40B</text>
<text class="yr" x="1104.6" y="309.8">20B</text>
<text class="yr" x="1104.6" y="449.2">0</text>
<text class="yr" x="1104.6" y="587.5">-20B</text>
<text x="0" y="0" transform="translate(25.8,366.4) rotate(-90)" text-anchor="middle" font-size="13.8px" fill="#2a2a2e" textLength="81" lengthAdjust="spacingAndGlyphs">BTC Price ($)</text>
<text x="0" y="0" transform="translate(1144.4,366.9) rotate(90)" text-anchor="middle" font-size="14.4px" fill="#2a2a2e" textLength="161" lengthAdjust="spacingAndGlyphs">Realized Cap Change ($)</text>
<path d="M134.4,620.6 V626.1" stroke="#e0e0ea" stroke-width="1.2"/>
<text class="xl" x="134.4" y="642.8">2024 Sep</text>
<path d="M239.1,620.6 V626.1" stroke="#e0e0ea" stroke-width="1.2"/>
<text class="xl" x="239.1" y="642.8">2024 Oct</text>
<path d="M347.2,620.6 V626.1" stroke="#e0e0ea" stroke-width="1.2"/>
<text class="xl" x="347.2" y="642.8">2024 Nov</text>
<path d="M451.9,620.6 V626.1" stroke="#e0e0ea" stroke-width="1.2"/>
<text class="xl" x="451.9" y="642.8">2024 Dec</text>
<path d="M560.1,620.6 V626.1" stroke="#e0e0ea" stroke-width="1.2"/>
<text class="xl" x="560.1" y="642.8">2025 Jan</text>
<path d="M668.2,620.6 V626.1" stroke="#e0e0ea" stroke-width="1.2"/>
<text class="xl" x="668.2" y="642.8">2025 Feb</text>
<path d="M765.9,620.6 V626.1" stroke="#e0e0ea" stroke-width="1.2"/>
<text class="xl" x="765.9" y="642.8">2025 Mar</text>
<path d="M874.1,620.6 V626.1" stroke="#e0e0ea" stroke-width="1.2"/>
<text class="xl" x="874.1" y="642.8">2025 Apr</text>
<path d="M978.7,620.6 V626.1" stroke="#e0e0ea" stroke-width="1.2"/>
<text class="xl" x="978.7" y="642.8">2025 May</text>
<path d="M1086.9,620.6 V626.1" stroke="#e0e0ea" stroke-width="1.2"/>
<text class="xl" x="1086.9" y="642.8">2025 Jun</text>
<path d="M448.4,653 V666.4" stroke="#3a2020" stroke-width="1.6"/>
<path d="M449.2,653.2 L460.2,657.6 L449.2,662.2 Z" fill="#e8141c"/>
<text x="466" y="663.8" font-size="12.4px" fill="#6e6e80"><tspan textLength="123.5" lengthAdjust="spacingAndGlyphs">Daily on-chain analysis:</tspan> <tspan text-decoration="underline" textLength="134.5" lengthAdjust="spacingAndGlyphs">https://x.com/AxelAdlerJr</tspan></text>
<text x="1010.3" y="663.4" font-size="10.4px" fill="#7c7c86" textLength="151.6" lengthAdjust="spacingAndGlyphs">© CryptoQuant. All rights reserved</text>
</svg></body></html>
